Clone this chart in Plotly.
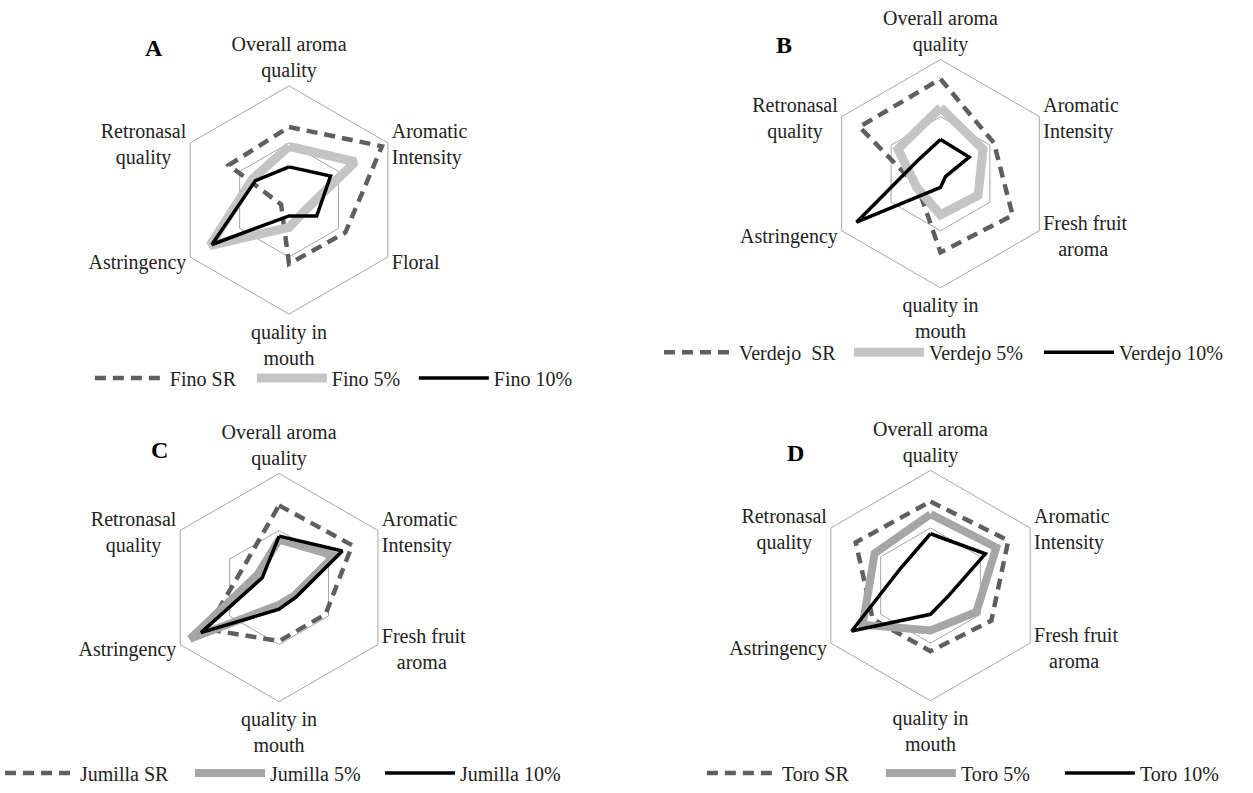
import plotly.graph_objects as go

FONT = "Liberation Serif"
W, H = 1253, 793
NB = "\u00a0"

# Attribute axes (clockwise from the top); blank lines keep the side labels level with their vertices
cats_fino = ["Overall aroma<br>quality",
             f"{NB}<br>{NB}<br>Aromatic<br>Intensity",
             f"Floral<br>{NB}",
             "quality in<br>mouth",
             f"Astringency<br>{NB}",
             f"{NB}<br>{NB}<br>Retronasal<br>quality{NB*3}"]
cats_wine = ["Overall aroma<br>quality",
             f"{NB}<br>{NB}<br>Aromatic<br>Intensity",
             f"Fresh fruit<br>{NB*3}aroma<br>{NB}<br>{NB}",
             "quality in<br>mouth",
             f"Astringency<br>{NB}",
             f"{NB}<br>{NB}<br>Retronasal<br>quality{NB*3}"]

# Panel A - Fino
fino_sr = [6.4, 9.4, 5.7, 5.6, 0.8, 6.1]
fino_5 = [4.7, 6.7, 1.7, 2.4, 8.0, 3.7]
fino_10 = [2.9, 4.2, 2.8, 1.4, 7.8, 3.4]

# Panel B - Verdejo
verdejo_sr = [8.3, 5.4, 7.3, 6.9, 2.3, 8.2]
verdejo_5 = [5.8, 4.3, 3.8, 3.6, 2.4, 4.3]
verdejo_10 = [3.0, 2.9, 0.5, 1.2, 8.5, 2.3]

# Panel C - Jumilla
jumilla_sr = [7.2, 7.4, 4.7, 4.7, 7.3, 3.6]
jumilla_5 = [4.2, 5.6, 1.5, 1.5, 9.0, 2.2]
jumilla_10 = [4.5, 6.4, 1.7, 1.9, 7.9, 1.7]

# Panel D - Toro
toro_sr = [7.3, 7.8, 6.1, 5.7, 5.8, 7.5]
toro_5 = [6.2, 6.6, 4.6, 3.9, 6.8, 5.6]
toro_10 = [4.5, 5.5, 1.8, 2.5, 7.9, 3.0]

panels = [
    dict(letter="A", cats=cats_fino, names=["Fino SR", "Fino 5%", "Fino 10%"],
         vals=[fino_sr, fino_5, fino_10], gray="#c4c4c4", gw=9,
         c=(287.5, 201.5), R=115, letter_xy=(152, 48), leg=(88, 381), ew=77),
    dict(letter="B", cats=cats_wine, names=[f"Verdejo {NB}SR", "Verdejo 5%", "Verdejo 10%"],
         vals=[verdejo_sr, verdejo_5, verdejo_10], gray="#c4c4c4", gw=9,
         c=(940, 175), R=115, letter_xy=(783, 45), leg=(658, 355), ew=105),
    dict(letter="C", cats=cats_wine, names=["Jumilla SR", "Jumilla 5%", "Jumilla 10%"],
         vals=[jumilla_sr, jumilla_5, jumilla_10], gray="#a6a6a6", gw=8,
         c=(277.5, 592), R=115, letter_xy=(158, 453), leg=(-2, 779), ew=105),
    dict(letter="D", cats=cats_wine, names=["Toro SR", "Toro 5%", "Toro 10%"],
         vals=[toro_sr, toro_5, toro_10], gray="#a6a6a6", gw=8,
         c=(930, 590), R=116, letter_xy=(795, 456), leg=(701, 779), ew=94),
]

fig = go.Figure()
layout = dict(
    width=W, height=H, autosize=False,
    margin=dict(l=0, r=0, t=0, b=0),
    paper_bgcolor="white",
    font=dict(family=FONT, size=20, color="#222222"),
    annotations=[],
)

for i, p in enumerate(panels):
    pid = "polar" if i == 0 else f"polar{i + 1}"
    lid = "legend" if i == 0 else f"legend{i + 1}"
    cx, cy = p["c"]
    R = p["R"]
    layout[pid] = dict(
        domain=dict(x=[(cx - R) / W, (cx + R) / W],
                    y=[1 - (cy + R) / H, 1 - (cy - R) / H]),
        gridshape="linear",
        bgcolor="white",
        radialaxis=dict(range=[0, 10], tickvals=[5], showticklabels=False,
                        ticks="", showline=False, gridcolor="#a6a6a6", gridwidth=1),
        angularaxis=dict(rotation=90, direction="clockwise", showgrid=False,
                         showline=True, linecolor="#a6a6a6", linewidth=1, ticks="",
                         tickfont=dict(family=FONT, size=20, color="#222222")),
    )
    lx, ly = p["leg"]
    layout[lid] = dict(orientation="h", x=lx / W, y=1 - ly / H,
                       xanchor="left", yanchor="middle",
                       font=dict(family=FONT, size=20, color="#222222"),
                       itemwidth=70, entrywidth=p["ew"], bgcolor="rgba(0,0,0,0)")
    layout["annotations"].append(dict(
        text=f"<b>{p['letter']}</b>", x=p["letter_xy"][0] / W, y=1 - p["letter_xy"][1] / H,
        xref="paper", yref="paper", xanchor="center", yanchor="middle", showarrow=False,
        font=dict(family=FONT, size=24, color="black")))

    styles = [
        dict(color="#5f5f5f", width=4.5, dash="11px,7px"),
        dict(color=p["gray"], width=p["gw"]),
        dict(color="black", width=3.5),
    ]
    theta = p["cats"] + [p["cats"][0]]
    for name, v, st in zip(p["names"], p["vals"], styles):
        fig.add_trace(go.Scatterpolar(
            r=v + [v[0]], theta=theta, mode="lines", name=name,
            line=st, subplot=pid, legend=lid, hoverinfo="skip"))

fig.update_layout(**layout)
fig.write_html("out.html")
